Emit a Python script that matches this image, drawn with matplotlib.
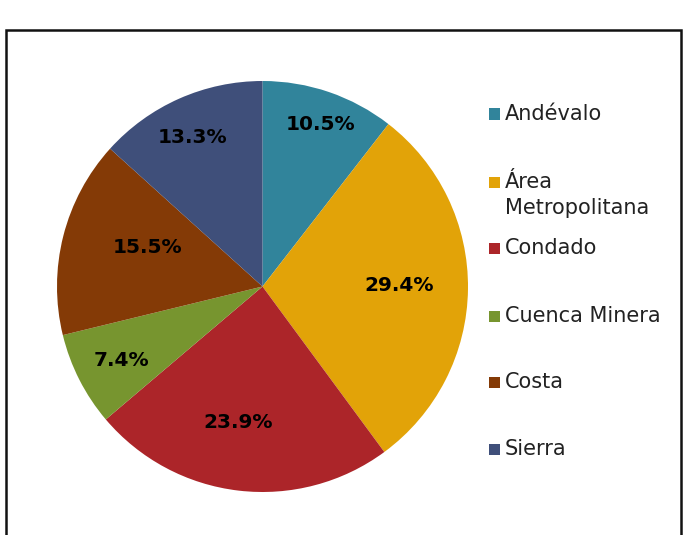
import matplotlib
matplotlib.use('Agg')
import matplotlib.pyplot as plt
from matplotlib.patches import Rectangle
import numpy as np

# Data
regions = ['Andévalo', 'Área\nMetropolitana', 'Condado', 'Cuenca Minera',
           'Costa', 'Sierra']
shares = [10.5, 29.4, 23.9, 7.4, 15.5, 13.3]
colors = ['#31849B', '#E2A308', '#AC2529', '#77952F', '#843A06', '#3F4F7A']

# label placement (radius as fraction, angle in degrees), Excel best-fit look
label_pos = [(0.836, 70.1), (0.664, 0.6), (0.67, -100.2), (0.772, 207.6),
             (0.588, 161.4), (0.798, 115.1)]
legend_y = [114, 182, 248, 316, 382, 449]  # pixel rows of legend entries

W, H = 688, 535
fig = plt.figure(figsize=(W / 100, H / 100), dpi=100)

# chart frame (runs off the bottom of the image)
fig.patches.append(Rectangle((6 / W, -0.02), 675 / W, 1 - 29.5 / H + 0.02,
                             transform=fig.transFigure, fill=False,
                             edgecolor='#111111', lw=1.8))

cx, cy, r = 262.5, 286.5, 205.5
ax = fig.add_axes([(cx - r) / W, 1 - (cy + r) / H, 2 * r / W, 2 * r / H])
wedges, texts = ax.pie(shares, colors=colors, startangle=90,
                       counterclock=False, radius=1,
                       wedgeprops={'linewidth': 0})
ax.set_xlim(-1, 1)
ax.set_ylim(-1, 1)
ax.set_aspect('equal')

for val, (d, ang) in zip(shares, label_pos):
    a = np.deg2rad(ang)
    ax.text(d * np.cos(a), d * np.sin(a), '{:.1f}%'.format(val),
            ha='center', va='center', fontsize=14.5, fontweight='bold',
            color='black')

# legend
for name, c, y in zip(regions, colors, legend_y):
    fig.patches.append(Rectangle((489 / W, 1 - (y + 5.5) / H), 11 / W, 11 / H,
                                 transform=fig.transFigure, color=c, lw=0))
    if '\n' in name:
        fig.text(505 / W, 1 - (y - 10) / H, name, ha='left', va='top',
                 fontsize=15, color='#222222', linespacing=1.36)
    else:
        fig.text(505 / W, 1 - y / H, name, ha='left', va='center',
                 fontsize=15, color='#222222')

fig.savefig('out.png', dpi=100)
